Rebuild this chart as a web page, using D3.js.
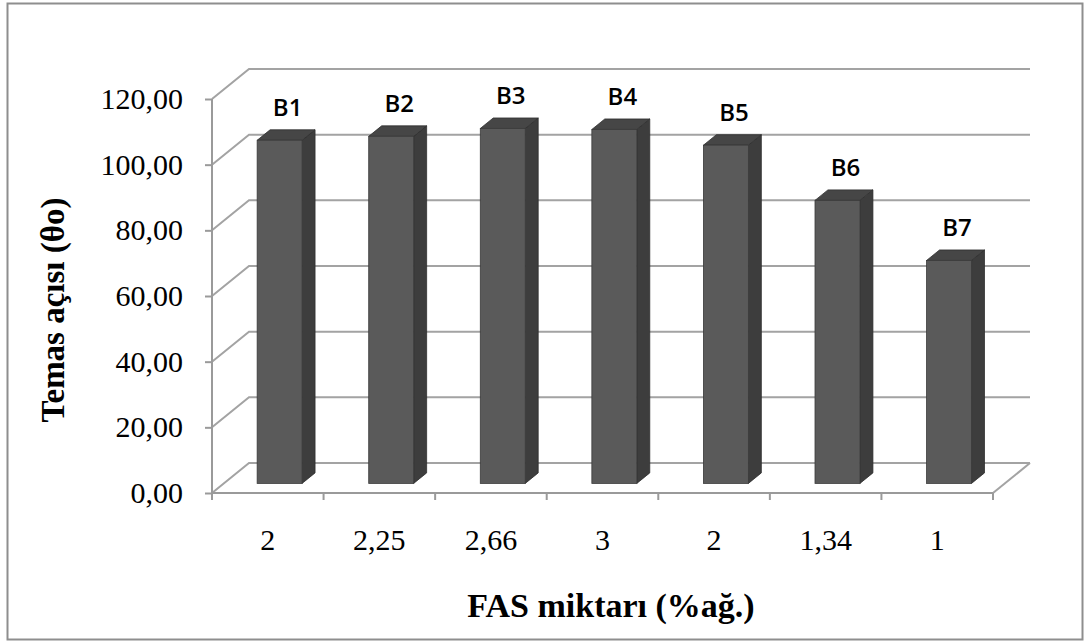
<!DOCTYPE html>
<html>
<head>
<meta charset="utf-8">
<script src="https://cdn.jsdelivr.net/npm/d3@7"></script>
<style>
    html, body { margin: 0; padding: 0; background: #fff; }
    .tick-txt { font-family: "Liberation Serif", "Times New Roman", serif; font-size: 30px; fill: #000; }
    .title { font-family: "Liberation Serif", "Times New Roman", serif; font-weight: bold; fill: #000; }
    .bar-label { font-family: "Open Sans", "Liberation Sans", sans-serif; font-size: 24px; font-weight: 600; fill: #000; }
    .grid-line { fill: none; stroke: #a3a3a3; stroke-width: 2; }
</style>
</head>
<body>
<div id="chart"></div>
<script>
// Chart values.
var categories = ['2', '2,25', '2,66', '3', '2', '1,34', '1'];
var barNames = ['B1', 'B2', 'B3', 'B4', 'B5', 'B6', 'B7'];
var contactAngles = [104.5, 105.7, 108.1, 107.8, 103.0, 86.2, 67.9];
var yTicks = [0, 20, 40, 60, 80, 100, 120];

(function (d3) {
    'use strict';

    var width = 1086;
    var height = 642;

    // Front plane of the plot, and the 3D depth offset of the back wall.
    var plot = {left: 212, right: 993, top: 99, bottom: 493};
    var depth = {dx: 37, dy: -30};
    // Bars sit in the middle part of the depth.
    var barDepthStart = 0.32;
    var barDepth = 0.35;

    var trFmt = d3.formatLocale({decimal: ',', thousands: '.', grouping: [3], currency: ['', '']}).format('.2f');

    var svg = d3.select('#chart').append('svg')
        .attr('width', width)
        .attr('height', height)
    ;

    // Outer frame.
    svg.append('rect')
        .attr('x', 7.5)
        .attr('y', 3.5)
        .attr('width', 1075)
        .attr('height', 636)
        .attr('fill', '#fff')
        .attr('stroke', '#8e8e8e')
        .attr('stroke-width', 2)
    ;

    var x = d3.scaleBand()
        .domain(d3.range(categories.length))
        .range([plot.left, plot.right])
        .paddingInner(0.597)
        .paddingOuter(0.2985)
    ;

    var y = d3.scaleLinear()
        .domain([0, 120])
        .range([plot.bottom, plot.top])
    ;

    drawWalls(svg, x, y);
    drawBars(svg, x, y);
    drawAxes(svg, x, y);

    function drawWalls(svg, x, y) {
        var grid = svg.append('g').attr('class', 'grid');

        // Side wall diagonals + back wall lines.
        grid.selectAll('.grid-line')
            .data(yTicks)
            .enter()
            .append('path')
            .attr('class', 'grid-line')
            .attr('d', function (t) {
                var yy = y(t);
                return 'M' + plot.left + ',' + yy +
                    'L' + (plot.left + depth.dx) + ',' + (yy + depth.dy) +
                    'L' + (plot.right + depth.dx) + ',' + (yy + depth.dy);
            })
        ;

        // Floor right edge.
        grid.append('path')
            .attr('class', 'grid-line')
            .attr('d', 'M' + plot.right + ',' + y(0) + 'L' + (plot.right + depth.dx) + ',' + (y(0) + depth.dy))
        ;
    }

    function drawBars(svg, x, y) {
        var ox = depth.dx * barDepthStart;
        var oy = depth.dy * barDepthStart;
        var bx = depth.dx * barDepth;
        var by = depth.dy * barDepth;
        var w = x.bandwidth();

        var bars = svg.append('g').attr('class', 'bars')
            .selectAll('.bar')
            .data(contactAngles)
            .enter()
            .append('g')
            .attr('class', 'bar')
        ;

        // Side face.
        bars.append('path')
            .attr('fill', '#3d3d3d')
            .attr('stroke', '#2e2e2e')
            .attr('stroke-width', 0.8)
            .attr('d', function (v, i) {
                var x1 = x(i) + ox + w;
                var yt = y(v) + oy;
                var yb = y(0) + oy;
                return 'M' + x1 + ',' + yt + 'L' + (x1 + bx) + ',' + (yt + by) +
                    'L' + (x1 + bx) + ',' + (yb + by) + 'L' + x1 + ',' + yb + 'Z';
            })
        ;

        // Top face.
        bars.append('path')
            .attr('fill', '#464646')
            .attr('stroke', '#2e2e2e')
            .attr('stroke-width', 0.8)
            .attr('d', function (v, i) {
                var x0 = x(i) + ox;
                var yt = y(v) + oy;
                return 'M' + x0 + ',' + yt + 'L' + (x0 + bx) + ',' + (yt + by) +
                    'L' + (x0 + w + bx) + ',' + (yt + by) + 'L' + (x0 + w) + ',' + yt + 'Z';
            })
        ;

        // Front face.
        bars.append('rect')
            .attr('fill', '#5a5a5a')
            .attr('stroke', '#3a3a3a')
            .attr('stroke-width', 0.8)
            .attr('x', function (v, i) { return x(i) + ox; })
            .attr('y', function (v) { return y(v) + oy; })
            .attr('width', w)
            .attr('height', function (v) { return y(0) - y(v); })
        ;

        bars.append('text')
            .attr('class', 'bar-label')
            .attr('text-anchor', 'middle')
            .attr('x', function (v, i) { return x(i) + ox + w / 2 + 8; })
            .attr('y', function (v) { return y(v) + oy - 24; })
            .text(function (v, i) { return barNames[i]; })
        ;
    }

    function drawAxes(svg, x, y) {
        // Y axis.
        var yAxis = svg.append('g')
            .attr('transform', translate(plot.left, 0))
            .call(d3.axisLeft(y).tickValues(yTicks).tickFormat(trFmt).tickSize(7).tickPadding(22))
        ;
        yAxis.select('.domain').attr('stroke', '#9a9a9a').attr('stroke-width', 2).attr('d', 'M0,' + plot.top + 'V' + (plot.bottom + 7));
        yAxis.selectAll('.tick line').attr('stroke', '#9a9a9a').attr('stroke-width', 2);
        yAxis.selectAll('.tick text').attr('class', 'tick-txt').attr('fill', null).attr('font-size', null).attr('font-family', null);
        yAxis.attr('font-size', null).attr('font-family', null);

        // X axis line (front edge of the floor).
        svg.append('line')
            .attr('x1', plot.left)
            .attr('x2', plot.right)
            .attr('y1', y(0))
            .attr('y2', y(0))
            .attr('stroke', '#9a9a9a')
            .attr('stroke-width', 2)
        ;

        // Tick marks sit between categories.
        var bounds = d3.range(categories.length + 1).map(function (k) { return plot.left + k * x.step(); });
        svg.append('g').selectAll('line')
            .data(bounds)
            .enter()
            .append('line')
            .attr('x1', function (d) { return d; })
            .attr('x2', function (d) { return d; })
            .attr('y1', y(0))
            .attr('y2', y(0) + 7)
            .attr('stroke', '#9a9a9a')
            .attr('stroke-width', 2)
        ;

        svg.append('g').selectAll('text')
            .data(categories)
            .enter()
            .append('text')
            .attr('class', 'tick-txt')
            .attr('text-anchor', 'middle')
            .attr('x', function (d, i) { return x(i) + x.bandwidth() / 2; })
            .attr('y', y(0) + 57)
            .text(function (d) { return d; })
        ;

        svg.append('text')
            .attr('class', 'title')
            .attr('text-anchor', 'middle')
            .attr('font-size', 34)
            .attr('x', 611)
            .attr('y', 617)
            .text('FAS miktarı (%ağ.)')
        ;

        svg.append('text')
            .attr('class', 'title')
            .attr('text-anchor', 'middle')
            .attr('font-size', 33)
            .attr('transform', translate(64, 310) + ' rotate(-90)')
            .text('Temas açısı (θo)')
        ;
    }

    function translate(x, y) {
        return 'translate(' + x + ',' + y + ')';
    }

})(d3);
</script>
</body>
</html>
